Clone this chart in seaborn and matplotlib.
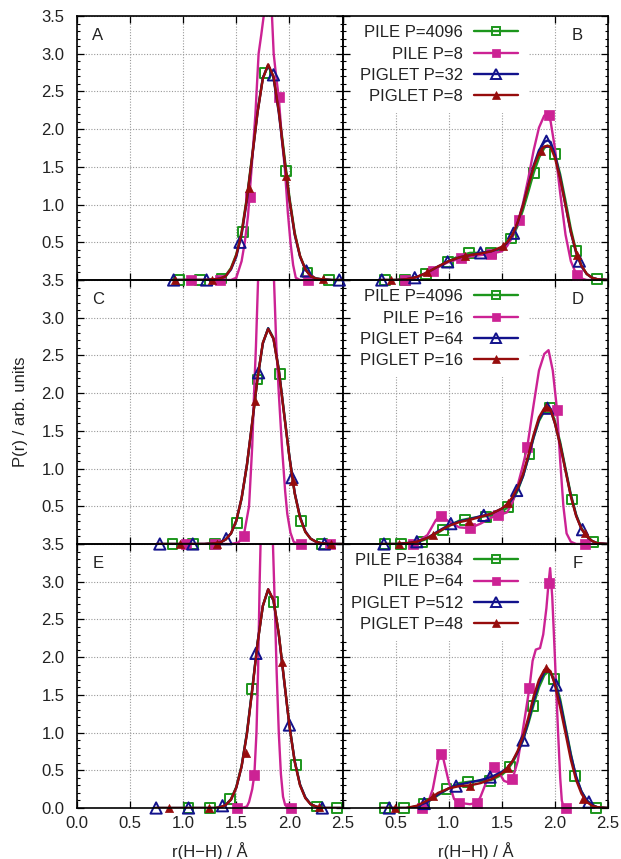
import numpy as np
import pandas as pd
import matplotlib
matplotlib.use("Agg")
import matplotlib.pyplot as plt
from matplotlib.lines import Line2D
from matplotlib.ticker import MultipleLocator, FixedLocator, FixedFormatter
import seaborn as sns

# ---------------- data ----------------
# Panel A
A_X = [0.90, 1.00, 1.10, 1.20, 1.30, 1.35, 1.40, 1.45, 1.50, 1.55, 1.60, 1.65, 1.70, 1.75,
       1.80, 1.85, 1.90, 1.95, 2.00, 2.05, 2.10, 2.15, 2.20, 2.25, 2.30, 2.40, 2.50]
A_GREEN_Y = [0, 0, 0, 0, 0.01, 0.02, 0.06, 0.16, 0.34, 0.64, 1.10, 1.66, 2.24, 2.68,
             2.84, 2.70, 2.26, 1.68, 1.10, 0.63, 0.32, 0.15, 0.06, 0.02, 0.01, 0, 0]
A_BLUE_Y = [0, 0, 0, 0, 0.01, 0.02, 0.05, 0.14, 0.31, 0.60, 1.06, 1.63, 2.22, 2.68,
            2.85, 2.68, 2.22, 1.63, 1.06, 0.60, 0.31, 0.14, 0.05, 0.02, 0.01, 0, 0]
A_RED_Y = [0, 0, 0, 0, 0.01, 0.02, 0.05, 0.15, 0.33, 0.62, 1.08, 1.64, 2.22, 2.67,
           2.86, 2.70, 2.24, 1.64, 1.07, 0.61, 0.32, 0.14, 0.05, 0.02, 0.01, 0, 0]
A_PINK_X = [1.00, 1.45, 1.50, 1.55, 1.58, 1.61, 1.645, 1.68, 1.71, 1.735, 1.758, 1.78, 1.80,
            1.82, 1.836, 1.852, 1.875, 1.90, 1.93, 1.956, 1.985, 2.01, 2.035, 2.06, 2.10, 2.20]
A_PINK_Y = [0, 0, 0.03, 0.25, 0.5, 0.85, 1.5, 2.2, 3.0, 3.25, 3.5, 3.85, 3.95,
            3.8, 3.5, 3.0, 2.7, 2.42, 1.85, 1.5, 0.9, 0.5, 0.2, 0.03, 0, 0]
A_GREEN_MX = [0.96, 1.16, 1.36, 1.56, 1.77, 1.97, 2.17, 2.37]
A_GREEN_MY = [0, 0, 0.02, 0.64, 2.74, 1.45, 0.10, 0]
A_PINK_MX = [1.075, 1.35, 1.625, 1.90, 2.175]
A_PINK_MY = [0, 0, 1.1, 2.42, 0]
A_BLUE_MX = [0.91, 1.22, 1.535, 1.85, 2.16, 2.47]
A_BLUE_MY = [0, 0, 0.5, 2.72, 0.12, 0]
A_RED_MX = [0.92, 1.27, 1.62, 1.97, 2.32]
A_RED_MY = [0, 0, 1.22, 1.38, 0.01]

# Panel B
B_X = [0.35, 0.50, 0.60, 0.70, 0.80, 0.90, 1.00, 1.10, 1.20, 1.30, 1.40, 1.50, 1.55, 1.60,
       1.65, 1.70, 1.75, 1.80, 1.85, 1.90, 1.93, 1.96, 2.00, 2.05, 2.10, 2.15, 2.20, 2.25,
       2.30, 2.35, 2.40, 2.50]
B_GREEN_Y = [0, 0, 0.01, 0.04, 0.09, 0.17, 0.25, 0.32, 0.36, 0.36, 0.36, 0.42, 0.48, 0.57,
             0.72, 0.93, 1.17, 1.42, 1.62, 1.75, 1.78, 1.77, 1.67, 1.40, 1.05, 0.68, 0.38, 0.19,
             0.08, 0.03, 0.01, 0]
B_BLUE_Y = [0, 0, 0.01, 0.04, 0.10, 0.18, 0.25, 0.30, 0.33, 0.36, 0.38, 0.43, 0.49, 0.59,
            0.76, 0.99, 1.26, 1.52, 1.72, 1.83, 1.85, 1.83, 1.66, 1.36, 0.99, 0.63, 0.36, 0.18,
            0.08, 0.03, 0.01, 0]
B_RED_Y = [0, 0, 0.01, 0.04, 0.10, 0.18, 0.25, 0.30, 0.33, 0.35, 0.38, 0.44, 0.50, 0.60,
           0.77, 0.99, 1.25, 1.50, 1.68, 1.77, 1.78, 1.76, 1.62, 1.34, 0.99, 0.64, 0.37, 0.19,
           0.08, 0.03, 0.01, 0]
B_PINK_X = [0.55, 0.60, 0.70, 0.80, 0.85, 0.90, 1.00, 1.10, 1.20, 1.30, 1.40, 1.50, 1.55, 1.60,
            1.65, 1.70, 1.75, 1.80, 1.85, 1.90, 1.93, 1.96, 2.00, 2.05, 2.10, 2.15, 2.20, 2.25,
            2.30, 2.50]
B_PINK_Y = [0, 0, 0.04, 0.10, 0.12, 0.17, 0.24, 0.28, 0.31, 0.33, 0.35, 0.38, 0.45, 0.57,
            0.76, 1.02, 1.35, 1.72, 2.02, 2.18, 2.20, 2.10, 1.75, 1.15, 0.60, 0.25, 0.08, 0.02,
            0, 0]
B_GREEN_MX = [0.40, 0.59, 0.79, 0.99, 1.19, 1.40, 1.59, 1.80, 2.00, 2.20, 2.40]
B_GREEN_MY = [0, 0, 0.08, 0.24, 0.36, 0.36, 0.55, 1.42, 1.67, 0.38, 0.01]
B_PINK_MX = [0.59, 0.85, 1.12, 1.40, 1.66, 1.94, 2.21]
B_PINK_MY = [0, 0.12, 0.29, 0.35, 0.79, 2.19, 0.07]
B_BLUE_MX = [0.37, 0.68, 0.99, 1.30, 1.61, 1.92, 2.23]
B_BLUE_MY = [0, 0.03, 0.24, 0.36, 0.62, 1.84, 0.25]
B_RED_MX = [0.46, 0.80, 1.15, 1.51, 1.87, 2.21]
B_RED_MY = [0, 0.10, 0.32, 0.45, 1.71, 0.33]

# Panel C
C_X = [0.75, 0.90, 1.00, 1.10, 1.20, 1.30, 1.35, 1.40, 1.45, 1.50, 1.55, 1.60, 1.65, 1.70,
       1.75, 1.80, 1.85, 1.90, 1.95, 2.00, 2.05, 2.10, 2.15, 2.20, 2.25, 2.30, 2.40, 2.50]
C_GREEN_Y = [0, 0, 0, 0, 0, 0.01, 0.02, 0.06, 0.14, 0.30, 0.60, 1.04, 1.60, 2.19,
             2.66, 2.86, 2.73, 2.32, 1.74, 1.16, 0.67, 0.35, 0.16, 0.07, 0.03, 0.01, 0, 0]
C_BLUE_Y = [0, 0, 0, 0, 0, 0.01, 0.02, 0.06, 0.14, 0.31, 0.61, 1.05, 1.61, 2.20,
            2.66, 2.86, 2.72, 2.31, 1.73, 1.16, 0.68, 0.36, 0.17, 0.07, 0.03, 0.01, 0, 0]
C_RED_Y = [0, 0, 0, 0, 0, 0.01, 0.02, 0.06, 0.14, 0.31, 0.61, 1.05, 1.62, 2.20,
           2.67, 2.85, 2.72, 2.30, 1.72, 1.15, 0.67, 0.35, 0.16, 0.07, 0.03, 0.01, 0, 0]
C_PINK_X = [1.00, 1.45, 1.52, 1.57, 1.62, 1.65, 1.67, 1.685, 1.705, 1.74, 1.78, 1.82, 1.855,
            1.877, 1.90, 1.93, 1.96, 1.98, 2.01, 2.04, 2.08, 2.40]
C_PINK_Y = [0, 0, 0.02, 0.11, 0.5, 1.3, 2.1, 2.62, 3.5, 4.2, 4.5, 4.2, 3.5,
            2.62, 2.0, 1.29, 0.7, 0.4, 0.15, 0.03, 0, 0]
C_GREEN_MX = [0.90, 1.09, 1.30, 1.505, 1.70, 1.91, 2.11, 2.31]
C_GREEN_MY = [0, 0, 0, 0.28, 2.18, 2.25, 0.30, 0]
C_PINK_MX = [1.03, 1.30, 1.57, 2.11, 2.38]
C_PINK_MY = [0, 0, 0.11, 0, 0]
C_BLUE_MX = [0.78, 1.09, 1.405, 1.71, 2.025, 2.33]
C_BLUE_MY = [0, 0, 0.07, 2.27, 0.88, 0]
C_RED_MX = [0.97, 1.32, 1.68, 2.035, 2.39]
C_RED_MY = [0, 0, 1.9, 0.83, 0]

# Panel D
D_X = B_X
D_GREEN_Y = [0, 0, 0.01, 0.02, 0.07, 0.15, 0.24, 0.31, 0.34, 0.36, 0.38, 0.43, 0.48, 0.57,
             0.71, 0.90, 1.14, 1.41, 1.63, 1.76, 1.80, 1.79, 1.63, 1.35, 1.00, 0.66, 0.39, 0.21,
             0.10, 0.04, 0.01, 0]
D_BLUE_Y = [0, 0, 0.01, 0.03, 0.08, 0.17, 0.25, 0.30, 0.33, 0.37, 0.40, 0.47, 0.52, 0.60,
            0.73, 0.90, 1.15, 1.42, 1.65, 1.78, 1.81, 1.77, 1.60, 1.32, 0.98, 0.64, 0.38, 0.20,
            0.10, 0.04, 0.01, 0]
D_RED_Y = [0, 0, 0.01, 0.03, 0.08, 0.16, 0.24, 0.29, 0.32, 0.36, 0.40, 0.47, 0.53, 0.62,
           0.75, 0.93, 1.18, 1.45, 1.68, 1.80, 1.82, 1.78, 1.60, 1.31, 0.97, 0.63, 0.37, 0.20,
           0.10, 0.04, 0.01, 0]
D_PINK_X = [0.55, 0.60, 0.70, 0.80, 0.88, 0.93, 1.00, 1.10, 1.20, 1.30, 1.40, 1.47, 1.55, 1.60,
            1.65, 1.70, 1.74, 1.80, 1.85, 1.90, 1.94, 1.98, 2.02, 2.05, 2.08, 2.11, 2.15, 2.20,
            2.50]
D_PINK_Y = [0, 0, 0.02, 0.12, 0.32, 0.37, 0.30, 0.22, 0.21, 0.27, 0.35, 0.38, 0.42, 0.55,
            0.78, 1.05, 1.29, 1.85, 2.30, 2.52, 2.57, 2.30, 1.78, 1.10, 0.50, 0.14, 0.03, 0,
            0]
D_GREEN_MX = [0.40, 0.55, 0.75, 0.95, 1.15, 1.355, 1.56, 1.76, 1.95, 2.16, 2.36]
D_GREEN_MY = [0, 0, 0.03, 0.19, 0.32, 0.36, 0.49, 1.19, 1.80, 0.59, 0.03]
D_PINK_MX = [0.66, 0.93, 1.20, 1.465, 1.74, 2.02, 2.28]
D_PINK_MY = [0, 0.37, 0.21, 0.38, 1.29, 1.78, 0]
D_BLUE_MX = [0.39, 0.70, 1.02, 1.33, 1.64, 1.93, 2.26]
D_BLUE_MY = [0, 0.03, 0.27, 0.38, 0.71, 1.80, 0.19]
D_RED_MX = [0.53, 0.85, 1.19, 1.56, 1.915, 2.28]
D_RED_MY = [0, 0.12, 0.31, 0.55, 1.82, 0.15]

# Panel E
E_X = [0.74, 0.85, 1.00, 1.10, 1.20, 1.30, 1.35, 1.40, 1.45, 1.50, 1.55, 1.60, 1.65, 1.70,
       1.75, 1.80, 1.85, 1.90, 1.95, 2.00, 2.05, 2.10, 2.15, 2.20, 2.25, 2.30, 2.40, 2.50]
E_GREEN_Y = [0, 0, 0, 0, 0, 0, 0.01, 0.04, 0.12, 0.28, 0.56, 1.00, 1.58, 2.19,
             2.68, 2.89, 2.75, 2.31, 1.70, 1.10, 0.62, 0.31, 0.14, 0.05, 0.02, 0, 0, 0]
E_BLUE_Y = [0, 0, 0, 0, 0, 0, 0.01, 0.04, 0.11, 0.27, 0.55, 0.99, 1.57, 2.19,
            2.68, 2.90, 2.75, 2.30, 1.69, 1.09, 0.62, 0.31, 0.14, 0.05, 0.02, 0, 0, 0]
E_RED_Y = [0, 0, 0, 0, 0, 0, 0.01, 0.04, 0.11, 0.27, 0.55, 0.98, 1.56, 2.18,
           2.68, 2.90, 2.76, 2.31, 1.70, 1.09, 0.61, 0.30, 0.13, 0.05, 0.02, 0, 0, 0]
E_PINK_X = [1.505, 1.55, 1.60, 1.62, 1.65, 1.67, 1.69, 1.705, 1.72, 1.73, 1.78, 1.83, 1.845,
            1.86, 1.88, 1.90, 1.92, 1.94, 1.96, 1.99, 2.015]
E_PINK_Y = [0, 0, 0.02, 0.08, 0.25, 0.44, 1.0, 1.8, 3.0, 3.6, 5.0, 4.0, 3.5,
            2.8, 1.8, 1.0, 0.45, 0.15, 0.04, 0, 0]
E_GREEN_MX = [1.05, 1.25, 1.44, 1.65, 1.85, 2.06, 2.26, 2.45]
E_GREEN_MY = [0, 0, 0.12, 1.58, 2.73, 0.57, 0.02, 0]
E_PINK_MX = [1.505, 1.67, 2.015]
E_PINK_MY = [0, 0.44, 0]
E_BLUE_MX = [0.745, 1.05, 1.37, 1.685, 2.00, 2.31]
E_BLUE_MY = [0, 0, 0.03, 2.05, 1.10, 0]
E_RED_MX = [0.87, 1.24, 1.59, 1.93, 2.28]
E_RED_MY = [0, 0, 0.73, 1.94, 0.01]

# Panel F
F_X = B_X
F_GREEN_Y = [0, 0, 0, 0.02, 0.08, 0.17, 0.26, 0.33, 0.35, 0.36, 0.37, 0.44, 0.50, 0.60,
             0.73, 0.90, 1.12, 1.37, 1.60, 1.76, 1.80, 1.79, 1.70, 1.44, 1.08, 0.72, 0.40, 0.22,
             0.10, 0.04, 0.01, 0]
F_BLUE_Y = [0, 0, 0, 0.02, 0.08, 0.18, 0.26, 0.31, 0.34, 0.37, 0.41, 0.48, 0.53, 0.62,
            0.74, 0.90, 1.15, 1.42, 1.65, 1.80, 1.82, 1.79, 1.66, 1.40, 1.05, 0.70, 0.42, 0.22,
            0.10, 0.04, 0.01, 0]
F_RED_Y = [0, 0, 0, 0.03, 0.10, 0.20, 0.26, 0.29, 0.30, 0.33, 0.38, 0.46, 0.53, 0.62,
           0.76, 0.95, 1.20, 1.48, 1.70, 1.83, 1.85, 1.81, 1.63, 1.33, 0.99, 0.64, 0.37, 0.19,
           0.08, 0.03, 0.01, 0]
F_PINK_X = [0.70, 0.75, 0.80, 0.85, 0.90, 0.925, 0.95, 1.00, 1.05, 1.095, 1.20, 1.27, 1.30,
            1.35, 1.40, 1.43, 1.47, 1.52, 1.56, 1.60, 1.65, 1.70, 1.76, 1.79, 1.82, 1.86,
            1.89, 1.92, 1.94, 1.955, 1.975, 2.00, 2.01, 2.03, 2.05, 2.065, 2.08, 2.10]
F_PINK_Y = [0, 0, 0.05, 0.25, 0.62, 0.72, 0.65, 0.35, 0.12, 0.07, 0.05, 0.07, 0.15,
            0.33, 0.50, 0.54, 0.48, 0.36, 0.34, 0.38, 0.62, 1.05, 1.59, 1.95, 2.10, 2.12,
            2.30, 2.65, 2.98, 3.18, 2.80, 2.00, 1.65, 1.00, 0.40, 0.10, 0.02, 0]
F_GREEN_MX = [0.40, 0.58, 0.77, 0.98, 1.18, 1.39, 1.575, 1.79, 1.99, 2.19, 2.39]
F_GREEN_MY = [0, 0, 0.06, 0.25, 0.35, 0.36, 0.55, 1.35, 1.71, 0.42, 0]
F_PINK_MX = [0.75, 0.925, 1.095, 1.27, 1.43, 1.60, 1.76, 1.94, 2.10]
F_PINK_MY = [0, 0.72, 0.07, 0.07, 0.54, 0.38, 1.59, 2.98, 0]
F_BLUE_MX = [0.44, 0.77, 1.07, 1.39, 1.70, 2.01, 2.32]
F_BLUE_MY = [0, 0.06, 0.29, 0.41, 0.90, 1.63, 0.08]
F_RED_MX = [0.49, 0.85, 1.20, 1.56, 1.915, 2.26]
F_RED_MY = [0, 0.16, 0.29, 0.53, 1.85, 0.12]

LEGEND_B = ["PILE P=4096", "PILE P=8", "PIGLET P=32", "PIGLET P=8"]
LEGEND_D = ["PILE P=4096", "PILE P=16", "PIGLET P=64", "PIGLET P=16"]
LEGEND_F = ["PILE P=16384", "PILE P=64", "PIGLET P=512", "PIGLET P=48"]

PANEL_LETTERS = ["A", "B", "C", "D", "E", "F"]
X_TICKS = [0.0, 0.5, 1.0, 1.5, 2.0, 2.5]
Y_TICKS = [0.0, 0.5, 1.0, 1.5, 2.0, 2.5, 3.0, 3.5]
X_LABEL = "r(H\u2212H) / \u00c5"
Y_LABEL = "P(r) / arb. units"

# ---------------- assemble ----------------
PANELS = {
    "A": dict(green=(A_X, A_GREEN_Y, A_GREEN_MX, A_GREEN_MY), pink=(A_PINK_X, A_PINK_Y, A_PINK_MX, A_PINK_MY),
              blue=(A_X, A_BLUE_Y, A_BLUE_MX, A_BLUE_MY), red=(A_X, A_RED_Y, A_RED_MX, A_RED_MY)),
    "B": dict(green=(B_X, B_GREEN_Y, B_GREEN_MX, B_GREEN_MY), pink=(B_PINK_X, B_PINK_Y, B_PINK_MX, B_PINK_MY),
              blue=(B_X, B_BLUE_Y, B_BLUE_MX, B_BLUE_MY), red=(B_X, B_RED_Y, B_RED_MX, B_RED_MY)),
    "C": dict(green=(C_X, C_GREEN_Y, C_GREEN_MX, C_GREEN_MY), pink=(C_PINK_X, C_PINK_Y, C_PINK_MX, C_PINK_MY),
              blue=(C_X, C_BLUE_Y, C_BLUE_MX, C_BLUE_MY), red=(C_X, C_RED_Y, C_RED_MX, C_RED_MY)),
    "D": dict(green=(D_X, D_GREEN_Y, D_GREEN_MX, D_GREEN_MY), pink=(D_PINK_X, D_PINK_Y, D_PINK_MX, D_PINK_MY),
              blue=(D_X, D_BLUE_Y, D_BLUE_MX, D_BLUE_MY), red=(D_X, D_RED_Y, D_RED_MX, D_RED_MY)),
    "E": dict(green=(E_X, E_GREEN_Y, E_GREEN_MX, E_GREEN_MY), pink=(E_PINK_X, E_PINK_Y, E_PINK_MX, E_PINK_MY),
              blue=(E_X, E_BLUE_Y, E_BLUE_MX, E_BLUE_MY), red=(E_X, E_RED_Y, E_RED_MX, E_RED_MY)),
    "F": dict(green=(F_X, F_GREEN_Y, F_GREEN_MX, F_GREEN_MY), pink=(F_PINK_X, F_PINK_Y, F_PINK_MX, F_PINK_MY),
              blue=(F_X, F_BLUE_Y, F_BLUE_MX, F_BLUE_MY), red=(F_X, F_RED_Y, F_RED_MX, F_RED_MY)),
}
LEGENDS = {"B": LEGEND_B, "D": LEGEND_D, "F": LEGEND_F}

STYLES = {
    "green": dict(color="#1c961c", marker="s", s=50, filled=False),
    "pink": dict(color="#cc2294", marker="s", s=48, filled=True),
    "blue": dict(color="#12128c", marker="^", s=66, filled=False),
    "red": dict(color="#960c0c", marker="^", s=34, filled=True),
}
ORDER = ["green", "pink", "blue", "red"]
LW = 1.7
FS = 12

sns.set_theme(style="white")
plt.rcParams["font.family"] = ["Liberation Sans", "DejaVu Sans"]
plt.rcParams["axes.unicode_minus"] = True

W, H = 621, 859
fig, axes = plt.subplots(3, 2, figsize=(W / 100, H / 100), dpi=100, sharex=False, sharey=False)
fig.patch.set_facecolor("white")
fig.subplots_adjust(left=77 / W, right=608 / W, top=1 - 16 / H, bottom=1 - 808 / H,
                    hspace=0, wspace=0)

for idx, letter in enumerate(PANEL_LETTERS):
    r, c = divmod(idx, 2)
    ax = axes[r, c]
    ax.set_facecolor("none")
    ax.set_zorder(10 - 3 * r + c)
    data = PANELS[letter]
    for k, name in enumerate(ORDER):
        st = STYLES[name]
        x, y, mx, my = data[name]
        df = pd.DataFrame({"x": x, "y": y})
        sns.lineplot(data=df, x="x", y="y", ax=ax, color=st["color"], lw=LW,
                     estimator=None, sort=False, zorder=3 + 2 * k)
        mdf = pd.DataFrame({"x": mx, "y": my})
        if st["filled"]:
            sns.scatterplot(data=mdf, x="x", y="y", ax=ax, marker=st["marker"], s=st["s"],
                            color=st["color"], edgecolor=st["color"], linewidth=0.5,
                            zorder=4 + 2 * k, clip_on=False)
        else:
            sns.scatterplot(data=mdf, x="x", y="y", ax=ax, marker=st["marker"], s=st["s"],
                            facecolor="none", edgecolor=st["color"], color=st["color"],
                            linewidth=1.4, zorder=4 + 2 * k, clip_on=False)

    ax.set_xlim(0, 2.5)
    ax.set_ylim(0, 3.5)
    ax.xaxis.set_major_locator(FixedLocator(X_TICKS))
    ax.yaxis.set_major_locator(FixedLocator(Y_TICKS))
    ax.yaxis.set_minor_locator(MultipleLocator(0.1))
    ax.grid(True, which="major", ls=(0, (1, 1.5)), color="#999999", lw=0.8, zorder=1)
    ax.set_axisbelow(True)
    for sp in ax.spines.values():
        sp.set_linewidth(1.2)
        sp.set_color("black")
        sp.set_zorder(20)
    ax.tick_params(which="both", direction="in", top=True, right=True, bottom=True, left=True,
                   colors="black", labelsize=FS, labelcolor="#222222")
    ax.tick_params(which="major", length=5, width=0.9)
    ax.tick_params(which="minor", length=2.5, width=0.8)
    ax.tick_params(axis="y", pad=9)
    ax.tick_params(axis="x", pad=6)

    # tick labels
    if r == 2:
        if c == 0:
            xl = [f"{v:.1f}" for v in X_TICKS]
        else:
            xl = [""] + [f"{v:.1f}" for v in X_TICKS[1:]]
        ax.xaxis.set_major_formatter(FixedFormatter(xl))
        ax.set_xlabel(X_LABEL, fontsize=FS, color="#222222")
        ax.xaxis.set_label_coords(0.5, -0.128)
    else:
        ax.set_xticklabels([])
        ax.set_xlabel("")
    if c == 0:
        if r == 2:
            yl = [f"{v:.1f}" for v in Y_TICKS]
        else:
            yl = [""] + [f"{v:.1f}" for v in Y_TICKS[1:]]
        ax.yaxis.set_major_formatter(FixedFormatter(yl))
    else:
        ax.set_yticklabels([])
    if r == 1 and c == 0:
        ax.set_ylabel(Y_LABEL, fontsize=FS, color="#222222")
        ax.yaxis.set_label_coords(-0.186, 0.5)
    else:
        ax.set_ylabel("")

    lx = 0.198 if c == 0 else 2.21
    ax.text(lx, 3.24, letter, ha="center", va="center", fontsize=FS, color="#222222", zorder=25)

    if letter in LEGENDS:
        handles = []
        for name, lab in zip(ORDER, LEGENDS[letter]):
            st = STYLES[name]
            handles.append(Line2D([], [], color=st["color"], lw=LW, marker=st["marker"],
                                  markersize=np.sqrt(st["s"]) * 0.9,
                                  markerfacecolor=st["color"] if st["filled"] else "none",
                                  markeredgecolor=st["color"],
                                  markeredgewidth=0.5 if st["filled"] else 1.4, label=lab))
        leg = ax.legend(handles=handles, loc="upper right", bbox_to_anchor=(0.697, 1.0),
                        frameon=True, fancybox=False, shadow=False, framealpha=1.0,
                        facecolor="white", edgecolor="none",
                        markerfirst=False, fontsize=FS, handlelength=2.65,
                        handletextpad=0.66, labelspacing=0.38, borderpad=0.55, borderaxespad=0.0)
        leg.get_frame().set_linewidth(0)
        for t in leg.get_texts():
            t.set_color("#222222")
        leg.set_zorder(2.5)

fig.savefig("out.png", dpi=100, facecolor="white")
